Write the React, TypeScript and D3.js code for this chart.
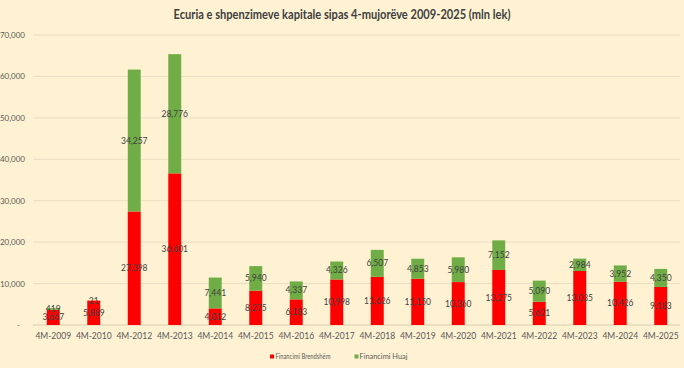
import React from "react";
import * as d3 from "d3";

const categories = ["4M-2009","4M-2010","4M-2012","4M-2013","4M-2014","4M-2015","4M-2016","4M-2017","4M-2018","4M-2019","4M-2020","4M-2021","4M-2022","4M-2023","4M-2024","4M-2025"];
const domestic = [3667, 5889, 27398, 36601, 4012, 8275, 6183, 10998, 11626, 11150, 10360, 13275, 5621, 13035, 10426, 9183];
const foreign = [419, 21, 34257, 28776, 7441, 5940, 4337, 4326, 6507, 4853, 5980, 7152, 5090, 2984, 3952, 4350];
const yTicks = [0, 10000, 20000, 30000, 40000, 50000, 60000, 70000];
const seriesNames = ["Financimi Brendshëm", "Financimi Huaj"];
const colors = ["#FF0000", "#70AD47"];
const title = "Ecuria e shpenzimeve kapitale sipas 4-mujorëve 2009-2025 (mln lek)";

const W = 684, H = 368;
const M = { left: 33, right: 681, top: 35, bottom: 325 };
const font = "Lato, 'Open Sans', sans-serif";

export default function App() {
  const x = d3.scaleBand<string>().domain(categories).range([M.left, M.right]).paddingInner(0.68).paddingOuter(0.34);
  const y = d3.scaleLinear().domain([0, 70000]).range([M.bottom, M.top]);
  const fmt = d3.format(",");
  const stacks = categories.map((c, i) => ({ c, d: domestic[i], f: foreign[i] }));
  return (
    <div style={{ position: "fixed", left: 0, top: 0 }}>
      <svg width={W} height={H} style={{ display: "block" }}>
        <rect x={0} y={0} width={W} height={H} fill="#FEF2D3" />
        <text x={342} y={19} textAnchor="middle" fontFamily={font} fontSize={12.5} fontWeight="bold" fill="#404040" textLength={337} lengthAdjust="spacingAndGlyphs">{title}</text>
        {yTicks.map((t) => (
          <g key={t}>
            <line x1={M.left} x2={680} y1={y(t)} y2={y(t)} stroke={t === 0 ? "#D9CDB0" : "#EADDC2"} strokeWidth={1} />
            <text x={t === 0 ? 20 : 25} y={y(t) + 3} textAnchor="end" fontFamily={font} fontSize={8} fill="#595959">{t === 0 ? "-" : fmt(t)}</text>
          </g>
        ))}
        {stacks.map((s) => {
          const bx = x(s.c)!;
          const bw = x.bandwidth();
          const cx = bx + bw / 2;
          return (
            <g key={s.c}>
              <rect x={bx} width={bw} y={y(s.d)} height={y(0) - y(s.d)} fill={colors[0]} />
              <rect x={bx} width={bw} y={y(s.d + s.f)} height={y(s.d) - y(s.d + s.f)} fill={colors[1]} />
              <text x={cx} y={(y(0) + y(s.d)) / 2 + 3} textAnchor="middle" fontFamily={font} fontSize={8.5} fill="#404040">{fmt(s.d)}</text>
              <text x={cx} y={(y(s.d) + y(s.d + s.f)) / 2 + 3} textAnchor="middle" fontFamily={font} fontSize={8.5} fill="#404040">{fmt(s.f)}</text>
              <text x={cx} y={339} textAnchor="middle" fontFamily={font} fontSize={8.5} fill="#595959">{s.c}</text>
            </g>
          );
        })}
        <g>
          <rect x={270} y={354.5} width={4} height={4} fill={colors[0]} />
          <text x={275.5} y={359} fontFamily={font} fontSize={7.5} fill="#595959" textLength={55} lengthAdjust="spacingAndGlyphs">{seriesNames[0]}</text>
          <rect x={354.5} y={354.5} width={4} height={4} fill={colors[1]} />
          <text x={359.5} y={359} fontFamily={font} fontSize={7.5} fill="#595959" textLength={48} lengthAdjust="spacingAndGlyphs">{seriesNames[1]}</text>
        </g>
      </svg>
    </div>
  );
}
